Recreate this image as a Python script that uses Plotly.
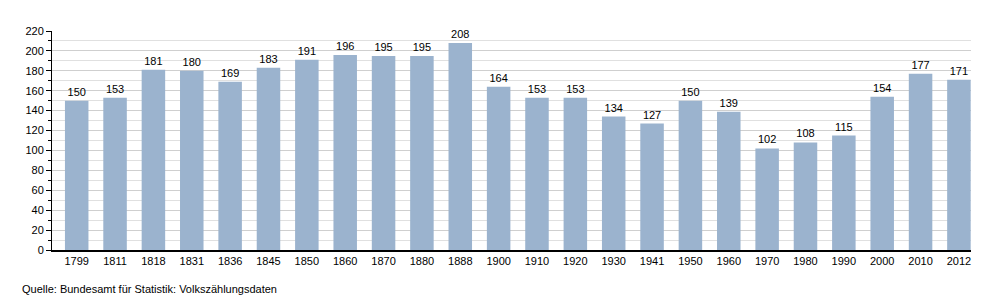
import plotly.graph_objects as go

years = ["1799", "1811", "1818", "1831", "1836", "1845", "1850", "1860", "1870", "1880",
         "1888", "1900", "1910", "1920", "1930", "1941", "1950", "1960", "1970", "1980",
         "1990", "2000", "2010", "2012"]
population = [150, 153, 181, 180, 169, 183, 191, 196, 195, 195,
              208, 164, 153, 153, 134, 127, 150, 139, 102, 108,
              115, 154, 177, 171]
y_ticks = list(range(0, 221, 20))
source_text = "Quelle: Bundesamt für Statistik: Volkszählungsdaten"

fig = go.Figure()
fig.add_trace(go.Bar(
    x=years, y=population,
    marker=dict(color="#9bb3ce", line=dict(width=0)),
    text=[str(v) for v in population],
    textposition="outside",
    textfont=dict(size=11, color="#000000"),
    cliponaxis=False,
))

fig.update_layout(
    width=1000, height=300,
    margin=dict(l=52, r=29, t=31, b=50),
    paper_bgcolor="white", plot_bgcolor="white",
    font=dict(family="Liberation Sans, Arial, sans-serif", size=11, color="#000000"),
    bargap=0.387,
    showlegend=False,
    xaxis=dict(
        type="category",
        range=[-0.644, 23.315],
        showline=True, linecolor="#000000", linewidth=1.5,
        ticks="", showgrid=False,
        tickfont=dict(size=11),
    ),
    yaxis=dict(
        range=[0, 220],
        tickvals=y_ticks,
        showline=True, linecolor="#000000", linewidth=1,
        ticks="outside", ticklen=5, tickcolor="#000000",
        showgrid=True, gridcolor="#cfcfcf", gridwidth=1,
        zeroline=False,
        minor=dict(dtick=10, showgrid=True, gridcolor="#e0e0e0",
                   ticks="outside", ticklen=3, tickcolor="#000000"),
        tickfont=dict(size=11),
    ),
    annotations=[dict(
        text=source_text, xref="paper", yref="paper",
        x=(20 - 52) / 919, y=(250 - 289) / 219, xanchor="left", yanchor="middle",
        showarrow=False, font=dict(size=11),
    )],
)

fig.write_html("out.html")
